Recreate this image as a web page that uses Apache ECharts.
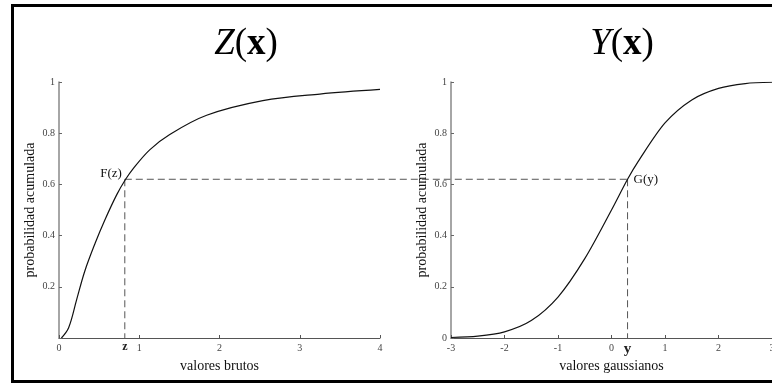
<!DOCTYPE html>
<html>
<head>
<meta charset="utf-8">
<script src="https://cdn.jsdelivr.net/npm/echarts@6/dist/echarts.min.js"></script>
<style>
html,body{margin:0;padding:0;background:#fff;}
#chart{width:772px;height:384px;}
</style>
</head>
<body>
<div id="chart"></div>
<script>
// ---- data ----
const rawX   = [0.03, 0.12, 0.22, 0.32, 0.45, 0.57, 0.72, 0.83, 0.92, 1.13, 1.38, 1.84, 2.54, 3.25, 4.0];
const rawF   = [0.0, 0.04, 0.15, 0.26, 0.37, 0.46, 0.56, 0.62, 0.66, 0.735, 0.795, 0.87, 0.927, 0.953, 0.971];
const gaussX = [-3, -2.5, -2, -1.5, -1, -0.5, 0, 0.3, 0.5, 1, 1.5, 2, 2.5, 3];
const gaussG = [0.002, 0.007, 0.024, 0.068, 0.16, 0.31, 0.5, 0.62, 0.69, 0.84, 0.93, 0.975, 0.994, 0.999];
const rawTicks   = [0, 1, 2, 3, 4];
const gaussTicks = [-3, -2, -1, 0, 1, 2, 3];
const probTicks  = [0, 0.2, 0.4, 0.6, 0.8, 1];
const zValue = 0.82;   // raw value z
const yValue = 0.3;    // gaussian value y
const pValue = 0.62;   // shared cumulative probability
const titles = ['Z', 'Y'];
const xNames = ['valores brutos', 'valores gaussianos'];
const yName = 'probabilidad acumulada';

const serif = '"Liberation Serif", "DejaVu Serif", serif';
const chart = echarts.init(document.getElementById('chart'), null, {renderer: 'canvas'});

function xAxisCfg(idx, ticks, name) {
  return {
    type: 'value', gridIndex: idx,
    min: ticks[0], max: ticks[ticks.length - 1], interval: 1,
    name: name, nameLocation: 'middle', nameGap: 21,
    nameTextStyle: {fontFamily: serif, fontSize: 14, color: '#111'},
    axisLine: {show: true, onZero: false, lineStyle: {color: '#555', width: 1}},
    axisTick: {show: true, inside: true, length: 3, lineStyle: {color: '#555'}},
    axisLabel: {margin: 5, fontFamily: serif, fontSize: 10, color: '#444'},
    splitLine: {show: false}
  };
}
function yAxisCfg(idx, hideZero) {
  return {
    type: 'value', gridIndex: idx,
    min: probTicks[0], max: probTicks[probTicks.length - 1], interval: 0.2,
    name: yName, nameLocation: 'middle', nameGap: 22,
    nameTextStyle: {fontFamily: serif, fontSize: 14, color: '#111'},
    axisLine: {show: true, onZero: false, lineStyle: {color: '#888', width: 1.5}},
    axisTick: {show: true, inside: true, length: 3, lineStyle: {color: '#666'}},
    axisLabel: {margin: 4, fontFamily: serif, fontSize: 10, color: '#444',
      formatter: function (v) { if (hideZero && v === 0) return ''; return String(+v.toFixed(1)); }},
    splitLine: {show: false}
  };
}
function titleCfg(letter, cx) {
  return {
    text: '{i|' + letter + '}({b|x})', left: cx, top: 21, textAlign: 'center',
    textStyle: {fontFamily: serif, fontSize: 37, fontWeight: 'normal', color: '#000',
      rich: {
        i: {fontFamily: serif, fontSize: 37, fontStyle: 'italic', color: '#000'},
        b: {fontFamily: serif, fontSize: 37, fontWeight: 'bold', color: '#000'}
      }}
  };
}

chart.setOption({
  animation: false,
  backgroundColor: '#fff',
  title: [titleCfg(titles[0], 241), titleCfg(titles[1], 617)],
  grid: [
    {left: 59, top: 82, width: 321, height: 256, outerBoundsMode: 'none', containLabel: false},
    {left: 451, top: 82, width: 321, height: 256, outerBoundsMode: 'none', containLabel: false}
  ],
  xAxis: [xAxisCfg(0, rawTicks, xNames[0]), xAxisCfg(1, gaussTicks, xNames[1])],
  yAxis: [yAxisCfg(0, true), yAxisCfg(1, false)],
  series: [
    {type: 'line', xAxisIndex: 0, yAxisIndex: 0, smooth: 0.35, showSymbol: false,
     lineStyle: {color: '#111', width: 1.2},
     data: rawX.map((x, i) => [x, rawF[i]])},
    {type: 'line', xAxisIndex: 1, yAxisIndex: 1, smooth: 0.3, showSymbol: false,
     lineStyle: {color: '#111', width: 1.2},
     data: gaussX.map((x, i) => [x, gaussG[i]])}
  ]
});

// annotations positioned through the chart's own scales
const pz  = chart.convertToPixel({gridIndex: 0}, [zValue, pValue]);
const pz0 = chart.convertToPixel({gridIndex: 0}, [zValue, 0]);
const py  = chart.convertToPixel({gridIndex: 1}, [yValue, pValue]);
const py0 = chart.convertToPixel({gridIndex: 1}, [yValue, 0]);
const dash = {stroke: '#555', lineWidth: 1, lineDash: [7, 4]};

chart.setOption({
  graphic: [
    {type: 'rect', shape: {x: 12.5, y: 5.5, width: 800, height: 376}, style: {fill: 'none', stroke: '#000', lineWidth: 3}, silent: true},
    {type: 'line', shape: {x1: pz[0], y1: pz[1], x2: py[0], y2: py[1]}, style: dash, silent: true},
    {type: 'line', shape: {x1: pz[0], y1: pz[1], x2: pz0[0], y2: pz0[1]}, style: dash, silent: true},
    {type: 'line', shape: {x1: py[0], y1: py[1], x2: py0[0], y2: py0[1]}, style: dash, silent: true},
    {type: 'text', x: pz[0] - 3, y: pz[1] - 6, style: {text: 'F(z)', fontFamily: serif, fontSize: 13, fill: '#111', align: 'right', verticalAlign: 'middle'}},
    {type: 'text', x: py[0] + 6, y: py[1], style: {text: 'G(y)', fontFamily: serif, fontSize: 13, fill: '#111', align: 'left', verticalAlign: 'middle'}},
    {type: 'text', x: pz0[0], y: pz0[1] + 9, style: {text: 'z', fontFamily: serif, fontSize: 12, fontWeight: 'bold', fill: '#222', align: 'center', verticalAlign: 'middle'}},
    {type: 'text', x: py0[0], y: py0[1] + 11, style: {text: 'y', fontFamily: serif, fontSize: 15, fontWeight: 'bold', fill: '#222', align: 'center', verticalAlign: 'middle'}}
  ]
});
</script>
</body>
</html>
